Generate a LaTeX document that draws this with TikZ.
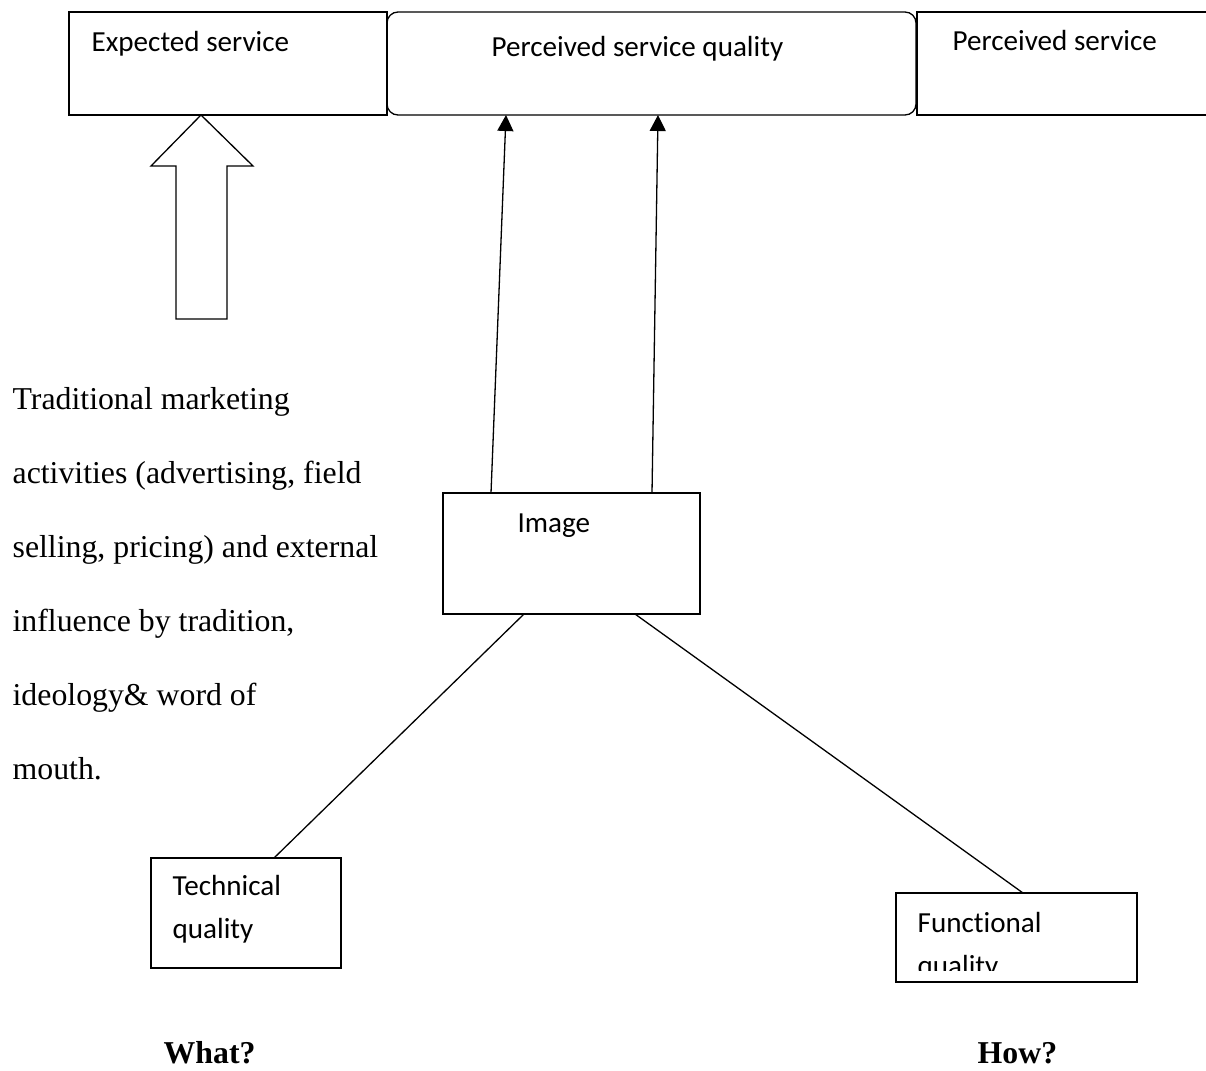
\documentclass[tikz,border=0pt]{standalone}
\usepackage{fontspec}
\setmainfont{Liberation Serif}
\newfontfamily\calfont[Ligatures=NoCommon]{Carlito}
\usetikzlibrary{arrows.meta}
\tikzset{boxtext/.style={anchor=base west,inner sep=0pt,font=\calfont\fontsize{29.1}{43}\selectfont},
	romtext/.style={anchor=base west,inner sep=0pt,align=left,font=\fontsize{31.8}{74}\selectfont}}

\begin{document}
\begin{tikzpicture}[x=1pt,y=-1pt,line width=1.3pt]
		\useasboundingbox (0,0) rectangle (1206,1070);
		\begin{scope}[every node/.style={draw,anchor=north west,inner sep=0pt,outer sep=0pt}]
			\node[minimum width=318pt,minimum height=103pt] (exp) at (69,12) {};
			\node[rounded corners=11pt,minimum width=529pt,minimum height=103pt] (pq) at (387,12) {};
			\node[minimum width=300pt,minimum height=103pt] (ps) at (917,12) {};
			\node[minimum width=257pt,minimum height=121pt] (img) at (443,493) {};
			\node[minimum width=190pt,minimum height=110pt] (tech) at (151,858) {};
			\node[minimum width=241pt,minimum height=89pt] (func) at (896,893) {};
		\end{scope}
		\node[boxtext] (expT) at (91,52) {Expected service};
		\node[boxtext] (pqT) at (491,57) {Perceived service quality};
		\node[boxtext] (psT) at (952,51) {Perceived service};
		\node[boxtext] (imgT) at (517,532) {Image};
		\node[boxtext,align=left] (techT) at (172,938) {Technical\\quality};
		\begin{scope}
			\clip (896,893) rectangle (1137,970);
			\node[boxtext,align=left] (funcT) at (917,975) {Functional\\quality};
		\end{scope}
		\node[romtext] (trad) at (12,779) {Traditional marketing\\activities (advertising, field\\selling, pricing) and external\\influence by tradition,\\ideology\& word of\\mouth.};
		\node[romtext,font=\bfseries\fontsize{31.8}{38}\selectfont] (what) at (163,1063) {What?};
		\node[romtext,font=\bfseries\fontsize{31.8}{38}\selectfont] (how) at (977,1063) {How?};
		\draw[line join=miter] (201,115) -- (253,166) -- (227,166) -- (227,319) -- (176,319) -- (176,166) -- (151,166) -- cycle;
		\begin{scope}[>={Triangle[width=16pt,length=16pt]}]
			\draw[->] ([xshift=48pt]img.north west) -- ([xshift=119pt]pq.south west);
			\draw[->] ([xshift=209pt]img.north west) -- ([xshift=271pt]pq.south west);
		\end{scope}
		\draw ([xshift=81pt]img.south west) -- ([xshift=123pt]tech.north west);
		\draw ([xshift=192pt]img.south west) -- ([xshift=127pt]func.north west);
	\end{tikzpicture}
\end{document}
